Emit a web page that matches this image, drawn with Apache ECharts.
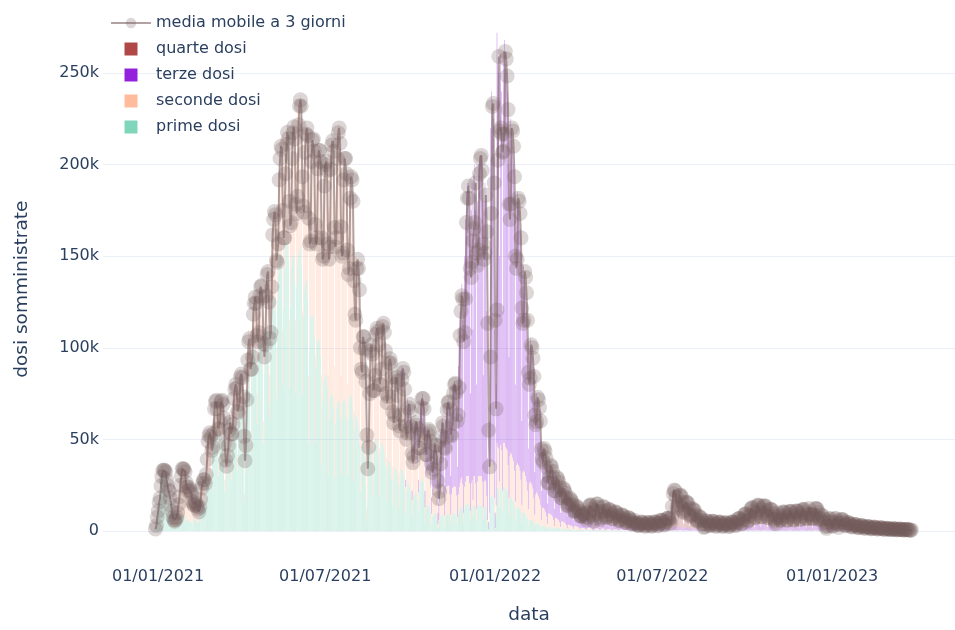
<!DOCTYPE html>
<html>
<head>
<meta charset="utf-8">
<script src="https://cdn.jsdelivr.net/npm/echarts@6/dist/echarts.min.js"></script>
<style>
html,body{margin:0;padding:0;background:#fff;}
#chart{width:955px;height:630px;}
</style>
</head>
<body>
<div id="chart"></div>
<script>
// Daily administered doses, in thousands ("k").
// Each row is one week, Sunday..Saturday.
const lastDate = '2023-03-28';
const primeStart = '2020-12-27';
const prime = [
0.2,1,2,6,15,12,20,
22,32,35,32,33,34,30,
20,25,22,18,14,10,8,
1.6,2.4,2.4,2.8,3.6,5.6,8,
5.5,8,9,8.5,8,8.5,7.5,
4,6.5,6,5.5,5.5,5,4.5,
3.6,6.8,6.4,6,5.2,4.8,4.4,
4.8,12,14.4,15.6,16.8,18,15.6,
13,27,30,31,32,33,27,
24,45,51,54,54,52,43,
30,51,54,54,52,49,37,
21,28,30,34,41,49,43,
27,49,55,58,60,61,54,
33,62,67,67,66,62,43,
16,31,62,74,82,86,78,
43,86,94,98,100,101,90,
58,94,101,105,105,103,90,
47,86,105,109,113,109,70,
61,108,119,122,126,128,119,
72,126,140,148,151,155,144,
79,122,144,155,157,158,148,
78,122,143,150,151,150,136,
75,133,148,151,153,155,144,
74,118,131,135,136,138,127,
47,99,116,118,118,117,107,
48,90,103,104,105,103,95,
36,71,82,84,86,84,78,
30,61,72,74,75,74,68,
29,58,67,70,71,70,62,
30,60,70,72,72,70,63,
30,61,72,74,74,70,61,
27,55,63,63,61,57,48,
22,45,50,49,45,40,25,
5.4,16,40,45,47,45,38,
20,45,50,50,50,47,40,
19,44,48,48,46,42,36,
16,34,38,38,37,35,29,
14,28,34,34,33,31,25,
12,27,33,34,33,31,24,
10,22,27,26,24,22,17,
8,16,19,20,21,21,17,
11,23,27,27,29,27,21,
5.5,12,14,14,14,13,10,
3.6,7.6,9,9.6,9.6,8.8,5.6,
1.5,2.3,6,8,9,9,7.5,
3,8,9,9,9,9,7.5,
3.6,8,9.4,9.6,9.8,9.6,7.8,
3.5,9,11,12,13,13.5,11.5,
5,12,14,15,15,15,13,
5,12,13,8,14,14,12,
6,13,14,14,14,14,13,
6,13,13,13,9,3,0.4,
5,18,19,19,18,9,0.8,
7,24,23,22,13,23,22,
11,24,24,23,22,22,18,
8,17,18,18,17,16,14,
6,13,13,13,12,12,10,
4,10,10,10,9,8,7,
3,6,6,6,6,5,4,
2,4,4.5,4.3,4,3.7,3,
1.3,2.7,2.8,2.6,2.4,2.2,1.7,
0.9,2.2,2.2,2.1,2,1.8,1.4,
0.7,1.8,1.8,1.7,1.6,1.5,1.2,
0.6,1.4,1.4,1.3,1.3,1.1,0.9,
0.4,1,0.9,0.9,0.8,0.8,0.6,
0.3,0.7,0.7,0.7,0.6,0.6,0.5,
0.3,0.5,0.5,0.5,0.5,0.4,0.3,
0.2,0.5,0.6,0.6,0.6,0.5,0.4,
0.1,0.2,0.6,0.6,0.6,0.6,0.4,
0.2,0.2,0.5,0.6,0.5,0.5,0.3,
0.1,0.3,0.4,0.4,0.3,0.3,0.2,
0.1,0.3,0.3,0.3,0.3,0.3,0.2,
0.1,0.2,0.3,0.3,0.2,0.2,0.2,
0.1,0.2,0.2,0.2,0.2,0.2,0.1,
0,0.2,0.2,0.2,0.1,0.2,0.1,
0,0.1,0.1,0.1,0.1,0.1,0.1,
0,0.1,0.1,0.1,0.1,0.1,0.1,
0,0.1,0.1,0.1,0.1,0.1,0.1,
0,0.1,0.1,0.1,0.1,0.1,0.1,
0,0.1,0.1,0.1,0.1,0.1,0.1,
0,0.1,0.2,0.2,0.2,0.2,0.1,
0,0.1,0.2,0.2,0.2,0.1,0.1,
0,0.1,0.1,0.1,0.1,0.1,0.1,
0,0.1,0.1,0.1,0.1,0.1,0.1,
0,0.1,0.1,0.1,0.1,0.1,0,
0,0,0.1,0.1,0.1,0.1,0,
0,0.1,0.1,0.1,0.1,0.1,0,
0,0.1,0.1,0.1,0.1,0.1,0,
0,0.1,0.1,0.1,0.1,0.1,0,
0,0.1,0.1,0.1,0.1,0.1,0,
0,0.1,0.1,0.1,0.1,0.1,0,
0,0.1,0.1,0.1,0.1,0.1,0,
0,0.1,0.1,0.1,0.1,0.1,0.1,
0,0.1,0.1,0.1,0.1,0.1,0.1,
0,0.1,0.1,0.1,0.1,0.1,0.1,
0,0.1,0.1,0.1,0.1,0.1,0.1,
0,0.1,0,0.1,0.1,0.1,0.1,
0,0.1,0.1,0.1,0.1,0.1,0.1,
0,0.1,0.1,0.1,0.1,0.1,0.1,
0,0.1,0.1,0.1,0.1,0.1,0.1,
0,0.1,0.1,0.1,0.1,0.1,0.1,
0,0.1,0.1,0.1,0.1,0.1,0.1,
0,0.1,0.1,0.1,0.1,0.1,0.1,
0,0.1,0.1,0.1,0.1,0.1,0,
0,0,0.1,0.1,0.1,0.1,0,
0,0.1,0.1,0.1,0.1,0,0,
0,0.1,0.1,0.1,0.1,0.1,0,
0,0.1,0.1,0.1,0.1,0.1,0,
0,0.1,0.1,0.1,0.1,0.1,0
];

const secondeStart = '2021-01-17';
const seconde = [
2.4,3.6,3.6,4.2,5.4,8.4,12,
16.5,25,26,25.5,25,25.5,22.5,
12,19.5,18,16.5,16.5,16,13.5,
5.4,10.2,9.6,9,7.8,7.2,6.6,
3.2,8,9.6,10.4,11.2,12,10.4,
9,18,20,21,22,22,18,
8,15,17,18,18,18,15,
10,17,18,18,18,16,13,
7,10,10,11,14,16,15,
9,16,19,20,20,21,18,
9,18,19,19,19,18,12,
4,9,18,21,23,24,22,
12,24,26,27,28,29,25,
17,26,29,30,30,29,25,
13,24,30,31,32,31,20,
24,42,46,48,49,50,46,
28,49,55,57,59,60,56,
31,48,56,60,61,62,57,
37,58,67,70,71,70,64,
40,72,80,81,83,83,78,
46,72,81,83,84,84,78,
38,81,94,97,97,95,88,
47,90,102,104,105,102,95,
49,99,113,116,119,116,107,
55,114,133,138,140,138,127,
61,122,143,150,151,148,133,
55,110,130,133,133,130,117,
50,99,118,121,121,115,99,
38,75,87,87,84,78,67,
28,55,60,59,55,50,30,
6.6,19,50,55,58,55,47,
25,55,60,62,60,58,50,
26,61,67,67,64,58,49,
24,51,57,57,55,53,43,
21,42,51,51,49,47,37,
20,39,49,50,49,45,34,
14,30,36,35,33,30,22,
9,19,23,24,25,25,20,
10,22,26,27,27,25,20,
7.5,17,19,20,19,18,14,
5.8,12,14,15,15,14,9,
2.5,3.7,10,14,15,16,12.5,
5.5,13,15,15.5,16,15.5,12.5,
5.4,12,14,14.4,14.8,14.4,11.7,
4.2,11,13,14.5,15.5,16,14,
5,12,13,15,15,15,13,
6,14,15,9,16,16,14,
6,14,16,16,16,16,14,
7,14,15,14,10,3,0.4,
5,18,19,19,18,9,0.8,
7,24,23,23,14,24,22,
11,24,24,23,23,22,18,
10,24,25,24,23,22,19,
10,23,24,23,23,21,18,
10,22,23,22,21,19,15,
9,20,21,20,19,18,14,
7,16,16.5,16,15,13.6,11,
4.8,9.9,10.1,9.7,8.8,7.9,6.2,
3,7.2,7.4,7,6.6,6,4.8,
2.2,5.4,5.4,5,4.9,4.5,3.6,
1.6,3.8,3.8,3.5,3.4,3,2.4,
1.1,2.7,2.5,2.4,2.2,2.1,1.7,
0.8,2,2,1.8,1.7,1.5,1.3,
0.6,1.2,1.2,1.1,1.1,1,0.7,
0.4,1,1.1,1.2,1.1,1,0.7,
0.2,0.2,0.8,0.9,0.9,0.8,0.6,
0.2,0.3,0.8,0.8,0.8,0.7,0.5,
0.2,0.7,0.7,0.7,0.7,0.6,0.4,
0.2,0.6,0.7,0.6,0.6,0.5,0.4,
0.2,0.5,0.5,0.5,0.5,0.5,0.3,
0.1,0.4,0.5,0.4,0.4,0.4,0.2,
0.1,0.4,0.4,0.3,0.1,0.3,0.2,
0.1,0.3,0.3,0.3,0.3,0.3,0.2,
0.1,0.3,0.3,0.3,0.3,0.3,0.2,
0.1,0.3,0.3,0.3,0.3,0.3,0.2,
0.1,0.3,0.3,0.3,0.3,0.3,0.2,
0.1,0.3,0.3,0.3,0.3,0.3,0.2,
0.1,0.3,0.4,0.4,0.4,0.4,0.2,
0.1,0.3,0.4,0.4,0.4,0.3,0.2,
0.1,0.3,0.3,0.3,0.3,0.3,0.2,
0.1,0.2,0.2,0.2,0.2,0.2,0.1,
0,0.2,0.2,0.2,0.1,0.1,0.1,
0,0,0.1,0.1,0.1,0.1,0.1,
0,0.1,0.1,0.1,0.1,0.1,0.1,
0,0.1,0.1,0.1,0.1,0.1,0.1,
0,0.1,0.1,0.1,0.1,0.1,0.1,
0,0.1,0.1,0.1,0.1,0.1,0.1,
0,0.1,0.1,0.1,0.1,0.1,0.1,
0,0.2,0.2,0.2,0.2,0.2,0.1,
0,0.2,0.2,0.3,0.3,0.2,0.1,
0.1,0.3,0.3,0.3,0.3,0.3,0.2,
0.1,0.3,0.3,0.3,0.3,0.3,0.2,
0.1,0.2,0.2,0.2,0.2,0.2,0.1,
0,0.2,0,0.2,0.2,0.2,0.1,
0,0.2,0.2,0.2,0.2,0.2,0.1,
0,0.2,0.2,0.2,0.2,0.2,0.1,
0,0.2,0.2,0.2,0.2,0.2,0.1,
0,0.2,0.2,0.2,0.2,0.2,0.1,
0,0.2,0.3,0.3,0.1,0.2,0.1,
0,0.2,0.3,0.3,0.2,0.2,0.1,
0,0.2,0.2,0.2,0.1,0.1,0,
0,0,0.1,0.1,0.1,0.1,0,
0,0.1,0.1,0.1,0.1,0,0.1,
0,0.1,0.1,0.1,0.1,0.1,0.1,
0,0.1,0.1,0.1,0.1,0.1,0,
0,0.1,0.1,0.1,0.1,0.1,0,
0,0.1,0.1,0.1,0.1,0.1,0,
0,0.1,0.1,0.1,0.1,0.1,0
];

const terzeStart = '2021-09-19';
const terze = [
0,4,6,6,6,6,4,
4,8,9,9,9,8,6,
5,10,13,14,14,14,11,
7,15,17,18,19,18,14,
9,19,22,22,22,21,16,
8.6,18.4,22,23.4,23.4,21.2,13.4,
6,9,24,33,36,37,30,
16.5,39,44,45.5,47,45.5,38,
21,48,54.6,56,57.4,56,45.5,
27.3,70,86,93.5,101.5,105.5,89.5,
50,126,143,155,160,160,139,
64,149,162,93,165,170,149,
68,153,170,175,175,175,153,
72,153,162,153,101,34,4.2,
50,184,202,197,189,92,8.4,
66,224,209,205,123,213,196,
98,214,220,209,205,196,164,
77,174,182,178,170,162,137,
64,144,148,144,140,132,112,
46,108,112,108,100,93,73,
33,74,78,74,70,65,52,
23,52,54,51.7,49,44.7,36,
15.9,32.4,33.1,31.7,28.8,25.9,20.1,
11.1,26.6,27.4,25.9,24.4,22.2,17.8,
9.1,22.8,22.8,21.3,20.5,19,15.2,
7.8,18.8,18.8,17.2,16.3,14.9,11.7,
6.5,15.3,14.6,13.7,13,12.1,9.7,
4.9,11.3,11.3,10.5,9.7,8.9,7.2,
4.1,8.3,8.3,7.4,7.4,6.6,5,
2.6,6,5.3,5.7,5.3,4.9,3.4,
1.1,1.4,4.9,5.3,5.3,4.9,3.5,
1.4,1.8,4.6,4.9,4.6,4.2,2.8,
1,3.6,4,4,3.6,3.3,2.3,
1,3.3,3.6,3.3,3.3,3,2,
0.8,2.6,3,3,2.6,2.5,1.6,
0.7,2.3,2.5,2.3,2.3,2,1.3,
0.5,2,2,1.8,0.7,1.6,1,
0.4,1.6,1.6,1.5,1.4,1.3,0.9,
0.3,1.4,1.5,1.4,1.4,1.3,0.8,
0.3,1.4,1.5,1.5,1.4,1.3,0.8,
0.3,1.4,1.5,1.5,1.5,1.4,0.8,
0.3,1.3,1.4,1.4,1.4,1.3,0.8,
0.3,1.6,2,2,2,1.9,1.2,
0.5,1.6,1.8,1.8,1.7,1.5,1,
0.4,1.4,1.5,1.5,1.4,1.3,0.8,
0.3,1.2,1.2,1.2,1.1,1,0.6,
0.2,0.8,0.8,0.8,0.7,0.6,0.4,
0.1,0.1,0.5,0.6,0.6,0.5,0.3,
0.1,0.6,0.7,0.7,0.6,0.5,0.3,
0.1,0.6,0.7,0.7,0.6,0.6,0.3,
0.2,0.8,0.9,0.9,0.8,0.8,0.4,
0.2,1,1.2,1.2,1.2,1.1,0.6,
0.3,1.5,1.6,1.7,1.7,1.6,0.9,
0.4,2,2.2,2.4,2.4,2.2,1.2,
0.5,2.7,3,3.2,3.2,3,1.7,
0.6,3.2,3.5,3.6,3.5,3.2,2,
0.6,3.2,3.5,3.5,3.4,3.1,1.9,
0.6,2.9,3,3,2.9,2.6,1.6,
0.5,2,0.5,2.5,2.5,2.4,1.5,
0.5,2.5,2.6,2.6,2.5,2.4,1.5,
0.5,2.5,2.8,2.8,2.6,2.5,1.5,
0.5,2.6,2.8,2.8,2.8,2.6,1.6,
0.5,2.7,2.9,3,3,2.7,1.7,
0.5,3,3.1,3.1,0.7,2.7,1.7,
0.5,3,3.1,3.1,3,2.7,1.7,
0.5,2.2,2.2,2,1.7,1.2,0.5,
0.1,0.5,1.5,1.7,1.7,1.5,0.5,
0.1,1.5,1.7,1.7,1.6,0.4,0.9,
0.2,1.5,1.6,1.6,1.5,1.3,0.7,
0.2,1.1,1.2,1.1,1,1,0.6,
0.2,0.9,0.9,0.9,0.8,0.8,0.5,
0.2,0.7,0.8,0.7,0.7,0.7,0.4,
0.1,0.6,0.6,0.6,0.6,0.5,0.3,
0.1,0.5,0.6,0.5,0.5,0.5,0.3,
0.1,0.5,0.5,0.5,0.4,0.4,0.2,
0.1,0.4,0.4,0.4,0.4,0.3,0.2,
0.1,0.3,0.3,0.3,0.3,0.3,0.1,
0,0.3,0.3,0.2,0.2,0.2,0.1,
0,0.2,0.2,0.2,0.2,0.2,0.1,
0,0.2,0.2
];

const quarteStart = '2022-04-10';
const quarte = [
0.8,4.5,7,7.5,7,6.6,4.5,
1.6,2.2,7.7,8.2,8.2,7.7,5.5,
2.2,2.7,7.1,7.7,7.1,6.6,4.4,
1.7,6.4,6.9,6.9,6.4,5.8,4.1,
1.7,5.8,6.4,5.8,5.8,5.2,3.4,
1.4,4.7,5.2,5.2,4.7,4.3,2.9,
1.1,4.1,4.3,4.1,4.1,3.4,2.4,
0.9,3.4,3.4,3.2,1.1,2.9,1.7,
0.7,3,3,2.9,2.7,2.5,1.6,
0.6,2.7,2.9,2.8,2.7,2.5,1.5,
0.6,3,3.1,3.1,3,2.8,1.7,
0.7,3.7,3.9,4.1,3.9,3.7,2.1,
0.9,4.8,5.2,5.2,5.2,4.8,2.9,
1.6,14,19.4,20.4,19.4,18.5,11.5,
4.4,16,17.6,17.6,16.7,15.1,9.7,
3.5,13.2,14.1,14.1,13.2,12.3,7.9,
2.6,10.5,10.5,10.5,9.6,8.7,5.2,
1.8,6.9,6.9,6.9,6.1,5.2,3.5,
0.9,0.9,4.3,5.2,4.7,4.3,2.6,
0.9,4.2,4.6,4.6,4.2,3.8,2.1,
0.9,3.7,4.1,4.1,4,3.7,2.1,
0.8,3.3,3.4,3.4,3.3,3,1.8,
0.8,3.3,3.6,3.6,3.6,3.5,2.1,
0.9,4.3,4.7,5.1,5.1,4.7,2.5,
1.1,5.7,6.5,6.8,6.8,6.5,3.7,
1.5,8,8.7,9.4,9.4,8.7,5.1,
1.8,9.4,10.1,10.5,10.1,9.4,5.7,
1.8,9.4,10.1,10.1,9.7,9,5.3,
1.8,8.3,8.7,8.7,8.3,7.6,4.7,
1.5,5.7,1.5,7.2,7.2,6.8,4.3,
1.5,7.2,7.6,7.6,7.2,6.8,4.3,
1.5,7.2,7.9,7.9,7.6,7.2,4.3,
1.5,7.6,7.9,7.9,7.9,7.6,4.7,
1.5,8,8.3,8.7,8.7,8,5.1,
1.5,8.7,9,9,2.2,8,5.1,
1.5,8.7,9,9,8.7,8,5.1,
1.5,6.5,6.5,5.7,5.1,3.6,1.5,
0.2,1.5,4.3,5.1,5.1,4.3,1.5,
0.2,4.3,5.1,5.1,4.7,1.1,2.5,
0.8,4.3,4.7,4.7,4.3,4,2.2,
0.6,3.2,3.4,3.2,3.1,2.8,1.6,
0.5,2.5,2.7,2.5,2.4,2.2,1.3,
0.4,2.2,2.2,2.2,2.1,1.9,1.1,
0.4,1.8,1.9,1.8,1.7,1.6,0.9,
0.3,1.6,1.6,1.6,1.5,1.4,0.7,
0.3,1.3,1.4,1.3,1.3,1.2,0.7,
0.2,1.1,1.2,1.1,1,1,0.5,
0.2,1,1,0.9,0.9,0.8,0.5,
0.2,0.8,0.8,0.8,0.8,0.7,0.4,
0.2,0.7,0.7,0.7,0.6,0.6,0.3,
0.2,0.6,0.6
];

const xTickDates = ['2021-01-01', '2021-07-01', '2022-01-01', '2022-07-01', '2023-01-01'];
const yTicks = [0, 50, 100, 150, 200, 250];

const seriesNames = {
  ma: 'media mobile a 3 giorni',
  quarte: 'quarte dosi',
  terze: 'terze dosi',
  seconde: 'seconde dosi',
  prime: 'prime dosi'
};

// ---------- building ----------
const DAY = 86400000;
function toTime(s) { const p = s.split('-').map(Number); return Date.UTC(p[0], p[1] - 1, p[2]); }
const firstDay = toTime(primeStart);
const nDays = Math.round((toTime(lastDate) - firstDay) / DAY) + 1;
function padded(values, start) {
  const off = Math.round((toTime(start) - firstDay) / DAY);
  const out = [];
  for (let i = 0; i < nDays; i++) {
    const j = i - off;
    out.push(j >= 0 && j < values.length ? values[j] : 0);
  }
  return out;
}
const P = padded(prime, primeStart);
const S = padded(seconde, secondeStart);
const T = padded(terze, terzeStart);
const Q = padded(quarte, quarteStart);
const days = [];
for (let i = 0; i < nDays; i++) days.push(firstDay + i * DAY);
const total = days.map((d, i) => P[i] + S[i] + T[i] + Q[i]);
const maData = [];
for (let i = 2; i < nDays; i++) maData.push([days[i], (total[i - 2] + total[i - 1] + total[i]) / 3]);
const pairs = arr => days.map((d, i) => [d, arr[i]]);

function fmtDate(v) {
  const d = new Date(v);
  const dd = String(d.getUTCDate()).padStart(2, '0');
  const mm = String(d.getUTCMonth() + 1).padStart(2, '0');
  return dd + '/' + mm + '/' + d.getUTCFullYear();
}

const FONT = 'DejaVu Sans';
const TXT = '#2a3f5f';
const sq = 'path://M0,0L1,0L1,1L0,1Z';
const BW = 0.45;
const BAR_OP = 0.6;
const X_MIN = Date.UTC(2020, 10, 2, 9);
const X_MAX = Date.UTC(2023, 4, 14);

function barSeries(name, color, arr) {
  return { name: name, type: 'bar', stack: 'dosi', xAxisIndex: 0, yAxisIndex: 0,
    barWidth: BW, barMinWidth: 0.05, itemStyle: { color: color, opacity: BAR_OP },
    data: pairs(arr), silent: true };
}

const chart = echarts.init(document.getElementById('chart'));
chart.setOption({
  animation: false,
  useUTC: true,
  backgroundColor: '#ffffff',
  textStyle: { fontFamily: FONT },
  grid: [
    { left: 103, right: 0, top: 18, bottom: 69.7 },
    { left: 103, right: 0, top: 73, bottom: 99 },
    { left: 103, right: 0, top: 18, bottom: 69.7 }
  ],
  legend: {
    orient: 'vertical', left: 110, top: 15, padding: 0,
    itemWidth: 40, itemHeight: 13, itemGap: 10,
    itemStyle: { opacity: 1 },
    textStyle: { color: TXT, fontSize: 16, fontFamily: FONT },
    data: [
      { name: seriesNames.ma },
      { name: seriesNames.quarte, icon: sq },
      { name: seriesNames.terze, icon: sq },
      { name: seriesNames.seconde, icon: sq },
      { name: seriesNames.prime, icon: sq }
    ]
  },
  xAxis: [
    {
      type: 'time', gridIndex: 0, min: X_MIN, max: X_MAX,
      axisLine: { show: false }, axisTick: { show: false }, splitLine: { show: false },
      axisLabel: { show: false }
    },
    { type: 'value', gridIndex: 1, min: 0, max: 1, show: false },
    {
      type: 'value', gridIndex: 2, min: X_MIN, max: X_MAX,
      axisLine: { show: false }, axisTick: { show: false }, splitLine: { show: false },
      axisLabel: {
        customValues: xTickDates.map(toTime),
        formatter: v => fmtDate(v),
        color: TXT, fontSize: 16, fontFamily: FONT, margin: 11
      },
      name: 'data', nameLocation: 'middle', nameGap: 48,
      nameTextStyle: { color: TXT, fontSize: 18.5, fontFamily: FONT }
    }
  ],
  yAxis: [
    {
      type: 'value', gridIndex: 0, min: -16, max: 280,
      axisLine: { show: false }, axisTick: { show: false }, axisLabel: { show: false },
      splitLine: { show: false },
      name: 'dosi somministrate', nameLocation: 'middle', nameGap: 71, nameRotate: 90,
      nameTextStyle: { color: TXT, fontSize: 18.5, fontFamily: FONT }
    },
    {
      type: 'value', gridIndex: 1, min: yTicks[0], max: yTicks[yTicks.length - 1], interval: 50,
      axisLine: { show: false }, axisTick: { show: false },
      axisLabel: { color: TXT, fontSize: 16, fontFamily: FONT, margin: 4,
        formatter: v => v === 0 ? '0' : v + 'k' },
      splitLine: { lineStyle: { color: '#ebf0f8', width: 1 } }
    },
    { type: 'value', gridIndex: 2, min: 0, max: 1, show: false }
  ],
  series: [
    barSeries(seriesNames.prime, '#80d6bb', P),
    barSeries(seriesNames.seconde, '#ffbc9c', S),
    barSeries(seriesNames.terze, '#9422dc', T),
    barSeries(seriesNames.quarte, '#b04848', Q),
    { name: seriesNames.ma, type: 'line', xAxisIndex: 0, yAxisIndex: 0, z: 5,
      symbol: 'circle', symbolSize: 15, showSymbol: true, showAllSymbol: true,
      itemStyle: { color: 'rgba(115,90,90,0.25)' },
      lineStyle: { color: 'rgba(115,85,85,0.55)', width: 2 },
      data: maData, silent: true }
  ]
});
</script>
</body>
</html>
